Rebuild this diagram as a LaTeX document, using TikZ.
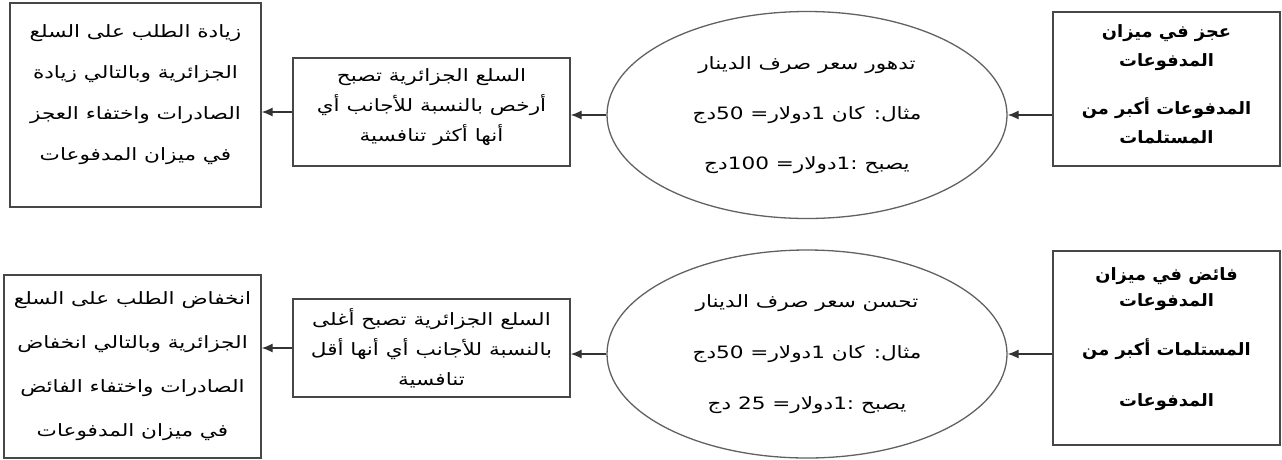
\documentclass[tikz,border=0pt]{standalone}
\usepackage{fontspec}
\newfontfamily\arabicfont[Script=Arabic,FakeStretch=1.27]{DejaVu Sans}
\newfontfamily\arabicheadfont[Script=Arabic,FakeStretch=1.05]{DejaVu Sans}
\TeXXeTstate=1
\usetikzlibrary{shapes.geometric,arrows.meta}
\newcommand{\arline}[1]{\beginR #1\endR}

\begin{document}
\begin{tikzpicture}[x=1pt,y=-1pt,>={Latex[length=11pt,width=9pt]},line width=1.3pt,
    box/.style={draw=black!72,align=center,inner sep=0pt},
    oval/.style={draw=black!62,ellipse,align=center,inner sep=0pt,minimum width=400pt,minimum height=207pt},
    txt/.style={font=\arabicfont\fontsize{17}{#1}\selectfont},
    boldtxt/.style={font=\arabicheadfont\bfseries\fontsize{17}{#1}\selectfont}]
  \useasboundingbox (0,0) rectangle (1282,459);
  % upper row: deficit
  \node[box,boldtxt=29,minimum width=227pt,minimum height=154pt] (deficit) at (1166.5,89)
    {\arline{عجز في ميزان}\\\arline{المدفوعات}\\[19pt]\arline{المدفوعات أكبر من}\\\arline{المستلمات}\\[-19pt]\mbox{}};
  \node[oval,txt=50] (rateDown) at (807,115)
    {\arline{تدهور سعر صرف الدينار}\\
     \arline{مثال: كان \beginL1\endL{}دولار= \beginL50\endL{}دج}\\
     \arline{يصبح :\beginL1\endL{}دولار= \beginL100\endL{}دج}};
  \node[box,txt=30,minimum width=277pt,minimum height=108pt] (cheaper) at (431.5,112)
    {\arline{السلع الجزائرية تصبح}\\\arline{أرخص بالنسبة للأجانب أي}\\\arline{أنها أكثر تنافسية}\\[-16pt]\mbox{}};
  \node[box,txt=41,minimum width=251pt,minimum height=204pt] (demandUp) at (135.5,105)
    {\arline{زيادة الطلب على السلع}\\\arline{الجزائرية وبالتالي زيادة}\\
     \arline{الصادرات واختفاء العجز}\\\arline{في ميزان المدفوعات}\\[-17pt]\mbox{}};
  % lower row: surplus
  \node[box,boldtxt=26,minimum width=227pt,minimum height=194pt] (surplus) at (1166.5,348)
    {\arline{فائض في ميزان}\\\arline{المدفوعات}\\[23pt]\arline{المستلمات أكبر من}\\[25pt]\arline{المدفوعات}\\[-4pt]\mbox{}};
  \node[oval,txt=51,minimum height=208pt] (rateUp) at (807,354)
    {\arline{تحسن سعر صرف الدينار}\\
     \arline{مثال: كان \beginL1\endL{}دولار= \beginL50\endL{}دج}\\
     \arline{يصبح :\beginL1\endL{}دولار= \beginL25\endL{} دج}};
  \node[box,txt=30,minimum width=277pt,minimum height=98pt] (dearer) at (431.5,348)
    {\arline{السلع الجزائرية تصبح أغلى}\\\arline{بالنسبة للأجانب أي أنها أقل}\\\arline{تنافسية}};
  \node[box,txt=44,minimum width=257pt,minimum height=183pt] (demandDown) at (132.5,366.5)
    {\arline{انخفاض الطلب على السلع}\\\arline{الجزائرية وبالتالي انخفاض}\\
     \arline{الصادرات واختفاء الفائض}\\\arline{في ميزان المدفوعات}};
  % connectors
  \begin{scope}[draw=black!80]
    \draw[->] (deficit.west |- rateDown.east) -- (rateDown.east);
    \draw[->] (rateDown.west) -- (rateDown.west -| cheaper.east);
    \draw[->] (cheaper.west) -- (cheaper.west -| demandUp.east);
    \draw[->] (surplus.west |- rateUp.east) -- (rateUp.east);
    \draw[->] (rateUp.west) -- (rateUp.west -| dearer.east);
    \draw[->] (dearer.west) -- (dearer.west -| demandDown.east);
  \end{scope}
\end{tikzpicture}
\end{document}
